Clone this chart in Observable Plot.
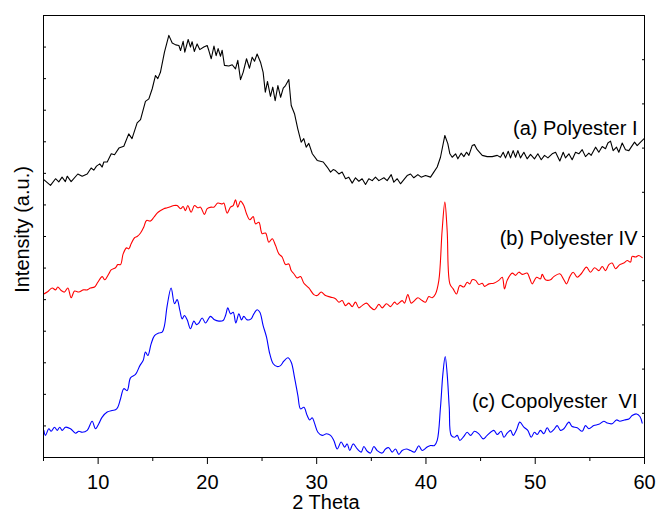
<!DOCTYPE html>
<html><head><meta charset="utf-8">
<script src="https://cdn.jsdelivr.net/npm/d3@7"></script>
<script src="https://cdn.jsdelivr.net/npm/@observablehq/plot@0.6"></script>
<style>html,body{margin:0;padding:0;background:#fff}</style>
</head><body><div id="chart"></div>
<script>
// [2θ, intensity (a.u., offset stacked)]
const polyesterI = [
[5.00,8.81],[5.64,8.62],[6.10,8.83],[6.40,8.73],[6.70,8.88],[7.00,8.74],[7.17,8.91],[7.53,8.74],[8.14,8.98],[8.54,8.91],
[9.00,8.98],[9.36,9.17],[9.60,9.10],[9.85,9.23],[10.15,9.30],[10.37,9.20],[10.52,9.36],[10.83,9.36],[11.20,9.62],[11.50,9.59],
[11.90,9.80],[12.35,9.86],[12.80,10.25],[13.10,10.10],[13.57,10.60],[13.88,10.70],[14.33,11.28],[14.64,11.36],[14.95,11.68],[15.25,12.10],
[15.46,12.00],[15.70,12.20],[16.07,12.84],[16.47,13.37],[16.78,13.13],[17.10,13.07],[17.39,13.05],[17.54,12.89],[17.78,13.18],[17.93,12.84],
[18.24,13.24],[18.45,13.00],[18.60,13.17],[18.80,12.86],[19.06,13.10],[19.30,12.92],[19.67,13.00],[19.98,13.05],[20.13,12.89],[20.35,12.63],
[20.60,13.03],[20.80,12.73],[20.98,12.95],[21.20,12.71],[21.35,12.90],[21.56,12.42],[21.96,12.40],[22.27,12.44],[22.57,12.31],[22.78,12.58],
[23.03,11.97],[23.27,12.20],[23.58,12.63],[23.85,12.33],[24.10,12.68],[24.31,12.55],[24.55,12.78],[24.86,12.52],[25.10,12.20],[25.30,11.57],
[25.50,11.91],[25.77,11.44],[25.98,11.73],[26.20,11.30],[26.45,11.78],[26.70,11.41],[26.94,11.70],[27.15,11.78],[27.45,11.97],[27.67,11.15],
[27.97,10.89],[28.27,10.41],[28.58,9.99],[28.82,10.10],[29.04,9.83],[29.28,9.95],[29.60,9.62],[30.05,9.41],[30.60,9.36],[30.96,9.20],
[31.27,9.04],[31.51,9.12],[31.72,9.09],[32.03,8.98],[32.33,9.04],[32.64,8.83],[32.94,8.88],[33.25,8.69],[33.55,8.86],[33.86,8.75],
[34.16,8.83],[34.47,8.65],[34.77,8.83],[35.08,8.77],[35.38,8.88],[35.69,8.77],[36.15,8.86],[36.45,8.77],[36.82,8.96],[37.06,8.72],
[37.37,8.83],[37.67,8.67],[37.98,8.80],[38.28,8.93],[38.59,8.98],[38.89,8.86],[39.26,8.96],[39.56,8.88],[39.96,8.93],[40.42,8.88],
[40.72,9.04],[41.03,9.20],[41.33,9.51],[41.73,10.20],[42.00,9.94],[42.19,9.62],[42.40,9.51],[42.71,9.62],[42.92,9.46],[43.22,9.64],
[43.47,9.53],[43.71,9.67],[43.93,9.57],[44.23,9.88],[44.44,9.91],[44.69,9.75],[45.15,9.57],[45.60,9.53],[46.06,9.53],[46.52,9.57],
[46.82,9.51],[47.07,9.67],[47.28,9.49],[47.53,9.70],[47.74,9.49],[47.98,9.72],[48.20,9.51],[48.41,9.72],[48.65,9.49],[48.96,9.67],
[49.26,9.46],[49.57,9.60],[49.93,9.46],[50.24,9.62],[50.55,9.43],[50.85,9.57],[51.16,9.49],[51.55,9.62],[51.86,9.67],[52.25,9.39],
[52.56,9.67],[52.77,9.49],[53.08,9.62],[53.38,9.43],[53.69,9.67],[53.99,9.62],[54.30,9.75],[54.60,9.53],[54.91,9.64],[55.12,9.57],
[55.52,9.83],[55.82,9.67],[56.13,9.85],[56.43,9.78],[56.65,9.96],[56.89,10.02],[57.13,9.72],[57.44,9.83],[57.65,9.67],[57.96,9.96],
[58.26,9.75],[58.57,9.72],[58.78,9.83],[59.09,9.99],[59.33,9.88],[59.64,9.99],[59.94,10.09]
];
const polyesterIV = [
[5.03,5.18],[5.34,5.24],[5.79,5.37],[6.10,5.31],[6.31,5.40],[6.62,5.29],[6.92,5.24],[7.23,5.37],[7.53,5.06],[7.84,5.27],
[8.23,5.24],[8.63,5.31],[9.00,5.31],[9.30,5.37],[9.67,5.40],[9.97,5.55],[10.37,5.73],[10.61,5.63],[10.98,5.82],[11.19,5.94],
[11.59,6.01],[11.80,6.11],[12.05,6.11],[12.29,6.45],[12.60,6.64],[12.81,6.61],[13.02,6.77],[13.33,6.96],[13.57,7.00],[13.88,7.11],
[14.18,7.30],[14.43,7.51],[14.79,7.49],[15.10,7.61],[15.40,7.74],[15.71,7.82],[16.01,7.88],[16.32,7.91],[16.68,7.95],[16.93,7.98],
[17.23,7.98],[17.54,7.88],[17.78,7.95],[17.99,7.82],[18.21,7.98],[18.51,7.77],[18.82,7.98],[19.12,7.91],[19.37,7.93],[19.73,7.70],
[19.98,7.88],[20.34,7.93],[20.59,7.93],[20.95,8.06],[21.35,8.03],[21.50,8.06],[21.81,7.74],[22.11,7.93],[22.36,7.98],[22.57,8.16],
[22.78,7.93],[23.03,8.12],[23.33,7.98],[23.58,7.72],[23.88,7.53],[24.19,7.63],[24.40,7.40],[24.71,7.45],[25.01,7.09],[25.32,7.11],
[25.62,6.82],[25.93,6.93],[26.23,6.72],[26.54,6.45],[26.84,6.35],[27.15,6.11],[27.45,6.13],[27.67,5.92],[27.91,5.82],[28.21,5.69],
[28.52,5.73],[28.83,5.52],[29.28,5.37],[29.74,5.16],[30.05,5.13],[30.41,5.24],[30.81,5.13],[31.27,5.08],[31.72,5.03],[32.03,4.92],
[32.33,4.97],[32.64,4.81],[32.94,4.89],[33.25,4.78],[33.55,4.92],[33.86,4.74],[34.16,4.81],[34.56,4.89],[34.93,4.76],[35.29,4.68],
[35.69,4.85],[35.99,4.74],[36.39,4.87],[36.76,4.78],[37.12,4.92],[37.37,4.85],[37.82,4.97],[38.04,4.89],[38.34,5.16],[38.65,4.89],
[38.95,4.97],[39.26,5.06],[39.65,4.97],[39.96,4.92],[40.26,5.10],[40.57,5.06],[40.87,5.18],[41.18,5.61],[41.48,7.19],[41.73,8.09],
[41.94,7.19],[42.19,5.50],[42.49,5.34],[42.80,5.18],[43.10,5.45],[43.47,5.40],[43.77,5.55],[44.02,5.50],[44.23,5.63],[44.54,5.61],
[44.84,5.48],[45.15,5.52],[45.36,5.42],[45.76,5.50],[46.21,5.52],[46.67,5.61],[46.98,5.71],[47.19,5.34],[47.43,5.61],[47.89,5.84],
[48.20,5.77],[48.50,5.87],[48.81,5.80],[49.26,5.84],[49.51,5.66],[49.72,5.50],[50.12,5.71],[50.48,5.66],[50.64,5.80],[50.94,5.63],
[51.40,5.63],[51.70,5.73],[52.25,5.82],[52.62,5.63],[52.86,5.50],[53.17,5.73],[53.47,5.87],[53.84,5.71],[54.21,5.82],[54.69,6.03],
[55.06,5.87],[55.43,6.01],[55.82,5.92],[56.13,6.05],[56.43,5.92],[56.74,6.11],[57.04,6.16],[57.35,5.98],[57.74,6.11],[58.11,6.16],
[58.42,6.24],[58.72,6.19],[58.87,6.37],[59.18,6.35],[59.48,6.40],[59.79,6.33]
];
const copolyesterVI = [
[5.03,0.86],[5.18,0.70],[5.49,0.91],[5.70,0.83],[6.01,0.96],[6.25,0.86],[6.49,0.96],[6.71,0.86],[7.01,0.96],[7.47,0.91],
[7.93,0.77],[8.23,0.83],[8.54,0.80],[9.00,0.86],[9.45,1.15],[9.76,0.91],[10.06,1.07],[10.37,1.28],[10.83,1.44],[11.28,1.49],
[11.59,1.51],[11.80,1.59],[12.05,1.86],[12.35,2.18],[12.66,2.12],[12.96,2.52],[13.42,2.63],[13.82,2.91],[14.12,3.07],[14.33,3.34],
[14.55,3.23],[14.85,3.60],[15.16,3.86],[15.55,3.94],[15.86,3.97],[16.07,4.18],[16.32,4.81],[16.68,5.37],[16.99,4.87],[17.23,5.00],
[17.48,4.66],[17.69,4.39],[17.90,4.50],[18.15,4.36],[18.45,4.08],[18.76,4.32],[19.00,4.21],[19.22,4.26],[19.52,4.42],[19.83,4.26],
[20.28,4.47],[20.65,4.36],[21.05,4.32],[21.44,4.34],[21.66,4.50],[21.87,4.74],[22.11,4.55],[22.36,4.60],[22.60,4.26],[22.88,4.55],
[23.12,4.36],[23.33,4.47],[23.64,4.36],[24.00,4.39],[24.25,4.55],[24.55,4.68],[24.80,4.60],[25.10,4.18],[25.41,3.81],[25.71,3.28],
[26.02,2.97],[26.39,2.88],[26.69,2.91],[26.99,3.05],[27.36,3.16],[27.67,3.02],[27.97,2.54],[28.28,1.96],[28.52,1.54],[28.83,1.59],
[29.13,1.33],[29.37,1.19],[29.59,1.26],[29.80,1.09],[30.11,0.80],[30.50,0.70],[30.90,0.75],[31.27,0.70],[31.57,0.54],[31.88,0.27],
[32.24,0.49],[32.55,0.33],[32.79,0.43],[33.03,0.22],[33.34,0.43],[33.71,0.27],[34.07,0.17],[34.32,0.35],[34.62,0.20],[34.93,0.14],
[35.23,0.35],[35.54,0.22],[35.99,0.14],[36.30,0.27],[36.60,0.31],[36.91,0.17],[37.21,0.27],[37.52,0.10],[37.82,0.22],[38.22,0.27],
[38.59,0.22],[38.95,0.17],[39.35,0.37],[39.65,0.22],[40.11,0.33],[40.42,0.38],[40.78,0.38],[41.03,0.54],[41.33,1.59],[41.55,2.65],
[41.76,3.20],[41.94,2.65],[42.13,1.59],[42.31,0.70],[42.60,0.64],[42.86,0.70],[43.10,0.54],[43.47,0.67],[43.77,0.80],[44.08,0.70],
[44.44,0.83],[44.84,0.75],[45.24,0.59],[45.60,0.70],[46.21,0.86],[46.52,0.73],[46.88,0.83],[47.13,0.64],[47.43,0.77],[47.74,0.86],
[47.98,0.70],[48.29,0.88],[48.59,1.12],[48.96,0.96],[49.32,0.86],[49.63,0.64],[49.93,0.80],[50.18,0.73],[50.48,0.86],[50.79,0.75],
[51.09,0.94],[51.40,0.80],[51.70,0.88],[52.01,1.01],[52.31,0.86],[52.62,0.91],[53.08,1.12],[53.38,0.98],[53.84,0.94],[54.30,0.83],
[54.60,1.01],[54.91,0.91],[55.36,1.01],[55.82,1.05],[56.28,1.15],[56.59,1.09],[57.04,1.07],[57.44,1.19],[57.74,1.15],[58.17,1.19],
[58.57,1.22],[58.87,1.33],[59.27,1.38],[59.58,1.30],[59.79,1.09]
];
const labelNames = ["(a) Polyester I", "(b) Polyester IV", "(c) Copolyester\u00a0 VI"];
const labelY = [10.42, 6.94, 1.76];
const xMajorTicks = [10, 20, 30, 40, 50, 60];
const xMinorTicks = [5, 15, 25, 35, 45, 55];
const yLeftTicks = d3.range(0, 15);
const yRightTicks = d3.range(0, 11).map(i => i * 1.4);
const xLabel = "2 Theta";
const yLabel = "Intensity (a.u.)";

const labels = labelNames.map((name, i) => ({name, y: labelY[i]}));
const X = d => d[0], Y = d => d[1];

const chart = Plot.plot({
  width: 657, height: 514,
  marginLeft: 43, marginRight: 13, marginTop: 15, marginBottom: 57,
  style: {fontFamily: "'Liberation Sans', Arial, sans-serif", fontSize: "20px", color: "#000", background: "#fff"},
  x: {domain: [5, 60]},
  y: {domain: [0, 14]},
  marks: [
    Plot.line(polyesterI, {x: X, y: Y, stroke: "#000", strokeWidth: 1.1}),
    Plot.line(polyesterIV, {x: X, y: Y, stroke: "#ff0000", strokeWidth: 1.1, curve: "catmull-rom"}),
    Plot.line(copolyesterVI, {x: X, y: Y, stroke: "#0000ff", strokeWidth: 1.1, curve: "catmull-rom"}),
    Plot.frame({stroke: "#000", strokeWidth: 1}),
    Plot.axisX({ticks: xMajorTicks, tickSize: 7, tickPadding: 10, label: null, fontSize: 20}),
    Plot.axisX({ticks: xMinorTicks, tickSize: 4, tickFormat: () => "", label: null}),
    Plot.axisY({ticks: yLeftTicks, tickSize: -3, tickFormat: () => "", label: null}),
    Plot.axisY({anchor: "right", ticks: yRightTicks, tickSize: -3, tickFormat: () => "", label: null}),
    Plot.text(labels, {y: "y", text: "name", frameAnchor: "right", textAnchor: "end", lineAnchor: "middle", dx: -7, fontSize: 20}),
    Plot.text([yLabel], {frameAnchor: "left", textAnchor: "middle", lineAnchor: "middle", dx: -21, dy: -7, rotate: -90, fontSize: 20}),
    Plot.text([xLabel], {frameAnchor: "bottom", textAnchor: "middle", lineAnchor: "middle", dx: -18, dy: 45, fontSize: 20})
  ]
});
document.getElementById("chart").appendChild(chart);
</script>
</body></html>
